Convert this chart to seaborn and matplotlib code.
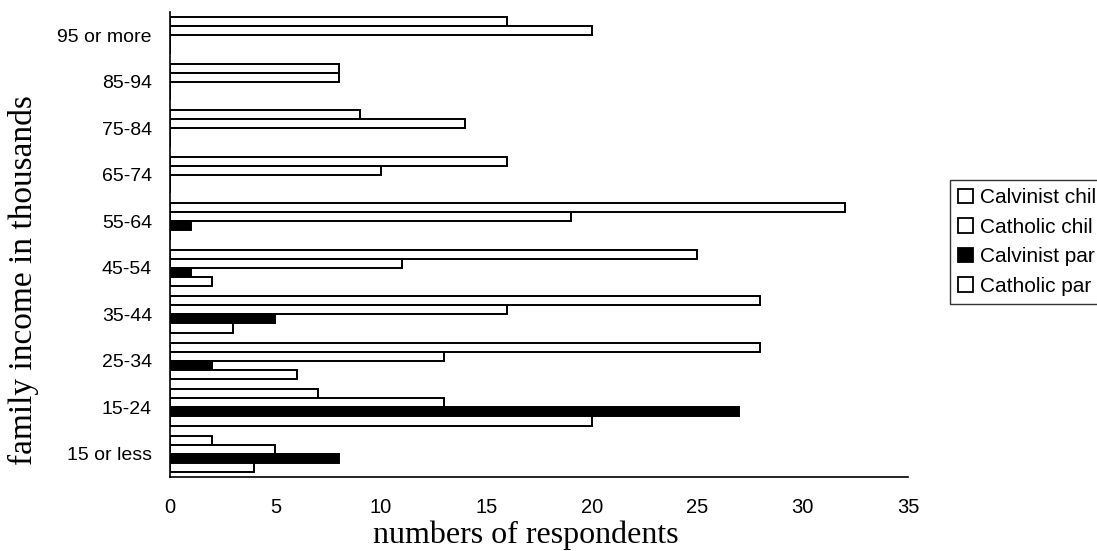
import matplotlib
matplotlib.use("Agg")
import matplotlib.pyplot as plt
from matplotlib.patches import Patch
import numpy as np
import pandas as pd
import seaborn as sns

# Income brackets, listed top to bottom
income = ["95 or more", "85-94", "75-84", "65-74", "55-64",
          "45-54", "35-44", "25-34", "15-24", "15 or less"]

groups = ["Calvinist chil", "Catholic chil", "Calvinist par", "Catholic par"]

calvinist_chil = [16, 8, 9, 16, 32, 25, 28, 28, 7, 2]
catholic_chil = [20, 8, 14, 10, 19, 11, 16, 13, 13, 5]
calvinist_par = [0, 0, 0, 0, 1, 1, 5, 2, 27, 8]
catholic_par = [0, 0, 0, 0, 0, 2, 3, 6, 20, 4]

x_ticks = [0, 5, 10, 15, 20, 25, 30, 35]

series = [calvinist_chil, catholic_chil, calvinist_par, catholic_par]
df = pd.DataFrame({
    "income": np.repeat([income], len(groups), axis=0).ravel(),
    "group": np.repeat(groups, len(income)),
    "count": np.concatenate(series),
})

fills = ["white", "white", "black", "white"]

sns.set_theme(style="white")
plt.rcParams["font.family"] = ["Liberation Sans", "DejaVu Sans"]

fig = plt.figure(figsize=(10.97, 5.51), dpi=100)
ax = fig.add_axes([0.155, 0.134, 0.6727, 0.844])

sns.barplot(data=df, x="count", y="income", hue="group",
            order=income, hue_order=groups, palette=fills,
            saturation=1, edgecolor="black", linewidth=1.4,
            width=0.78, orient="h", legend=False, ax=ax)

ax.set_xlim(0, 35)
ax.set_ylim(len(income) - 0.5, -0.5)
ax.set_xticks(x_ticks)
ax.set_xticklabels([str(t) for t in x_ticks], fontsize=14.5)
ax.set_yticks(range(len(income)))
ax.set_yticklabels(income, fontsize=14)
ax.set_yticks(np.arange(-0.5, len(income) + 0.5, 1), minor=True)
ax.tick_params(axis="y", which="major", length=0, pad=13)
ax.tick_params(axis="y", which="minor", length=5, width=1, color="black",
               direction="out")
ax.tick_params(axis="x", which="major", length=5, width=1, color="black",
               direction="out", pad=10)
for lbl in ax.get_xticklabels() + ax.get_yticklabels():
    lbl.set_color("black")

for side in ["top", "right"]:
    ax.spines[side].set_visible(False)
for side in ["left", "bottom"]:
    ax.spines[side].set_color("black")
    ax.spines[side].set_linewidth(1.2)

ax.set_xlabel("numbers of respondents", family="Liberation Serif",
              fontsize=23, color="black")
ax.set_ylabel("family income in thousands", family="Liberation Serif",
              fontsize=24, color="black")
ax.xaxis.set_label_coords(0.482, -0.124)
ax.xaxis.label.set_va("center")
ax.yaxis.set_label_coords(-0.198, 0.424)
ax.yaxis.label.set_va("center")

handles = [Patch(facecolor=c, edgecolor="black", linewidth=1.3) for c in fills]
leg = fig.legend(handles, groups, loc="upper left",
                 bbox_to_anchor=(950 / 1097, 1 - 180 / 551),
                 frameon=True, fancybox=False, edgecolor="black",
                 fontsize=15, handlelength=0.7, handleheight=0.7,
                 handletextpad=0.35, labelspacing=0.5, borderpad=0.4,
                 borderaxespad=0)
leg.get_frame().set_linewidth(1.0)
for t in leg.get_texts():
    t.set_color("black")

fig.savefig("out.png", dpi=100, facecolor="white")
